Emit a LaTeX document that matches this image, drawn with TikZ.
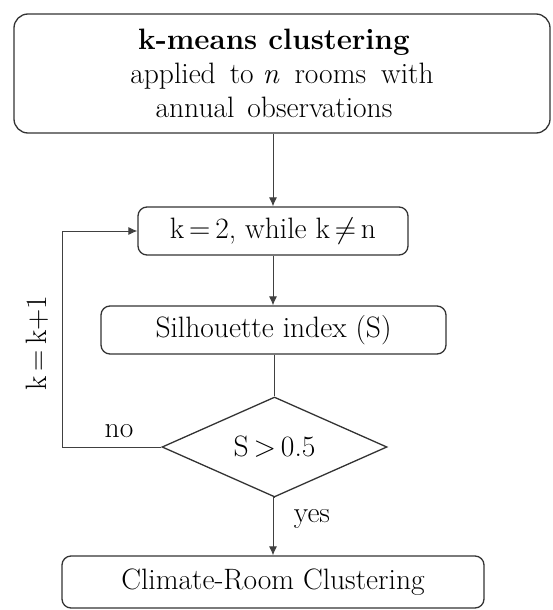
\RequirePackage{fix-cm}
\documentclass[tikz,border=0pt]{standalone}
\usetikzlibrary{arrows.meta,shapes.geometric}
\begin{document}
\begin{tikzpicture}[x=1pt,y=-1pt,
  every node/.style={font=\fontsize{29.5}{34}\selectfont, text=black},
  boxA/.style={draw=black!80, line width=1.3pt, rounded corners=9pt, inner sep=0pt},
  conn/.style={draw=black!75, line width=0.9pt},
  arr/.style={conn, -{Latex[length=9pt,width=8pt]}}]
\useasboundingbox (0,0) rectangle (552,610);
% nodes
\node[boxA, rounded corners=14pt, minimum width=536pt, minimum height=119pt, align=center] (top) at (282,73.5)
  {\textbf{k-means clustering}\hspace*{16pt}\\applied\hspace{14pt}to \textit{n}\hspace{6pt} rooms\hspace{6pt} with\hspace*{16pt}\\annual\hspace{4pt} observations\hspace*{16pt}};
\node[boxA, minimum width=270pt, minimum height=48pt] (kbox) at (273,231) {k\,=\,2, while k\,$\neq$\,n};
\node[boxA, minimum width=345pt, minimum height=48pt] (sil) at (273.5,330) {Silhouette index (S)};
\node[draw=black!80, line width=1.3pt, shape=diamond, shape aspect=2.25, minimum width=225pt, minimum height=100pt, inner sep=0pt] (dia) at (274.5,447) {S\,$>$\,0.5};
\node[boxA, minimum width=422pt, minimum height=52pt] (clim) at (273,582) {Climate-Room Clustering};
% labels
\node (no) at (119,431) {no};
\node (yes) at (312,519) {yes};
\node[rotate=90] (kk) at (37,343) {k\,=\,k+1};
% connectors
\draw[arr] (kbox.north |- top.south) -- (kbox.north);
\draw[arr] (kbox.south) -- (kbox.south |- sil.north);
\draw[conn] (dia.north |- sil.south) -- (dia.north);
\coordinate (loop) at (62,447);
\draw[arr] (dia.west) -- (loop) |- (kbox.west);
\draw[arr] (dia.south) -- (dia.south -| clim.north) -- (clim.north);
\end{tikzpicture}
\end{document}
